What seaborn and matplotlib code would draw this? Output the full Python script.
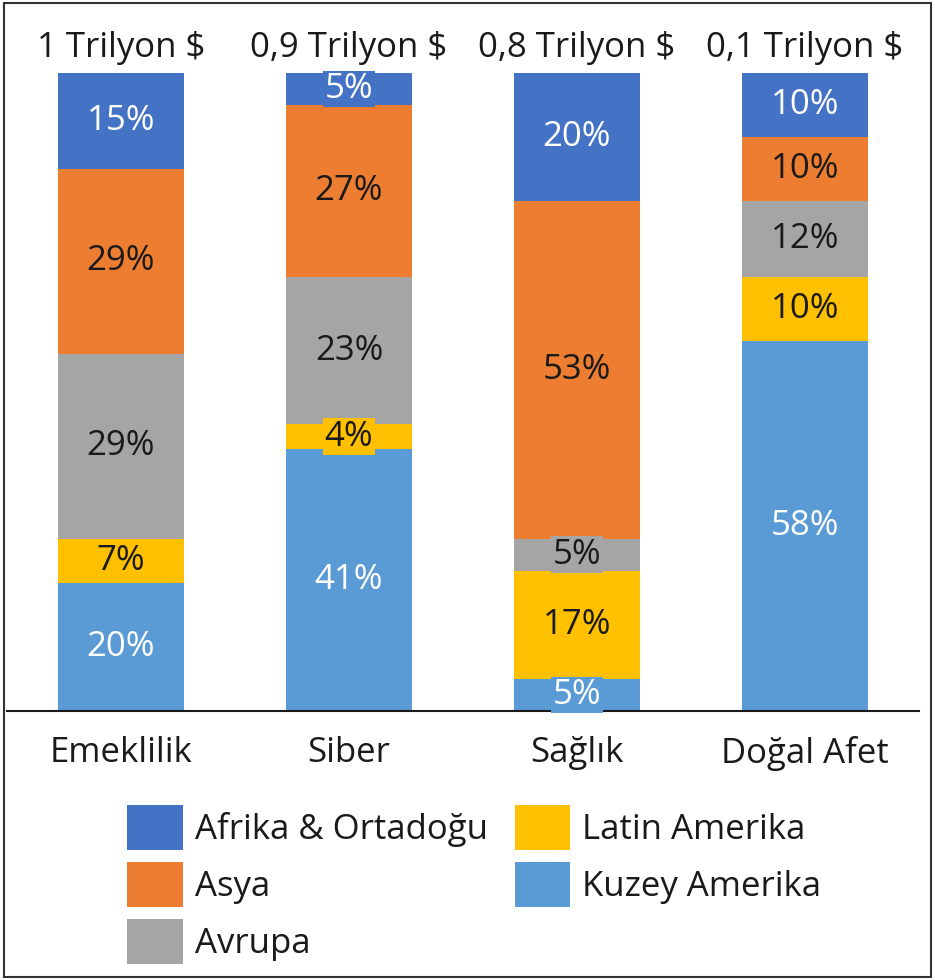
import numpy as np
import pandas as pd
import matplotlib
matplotlib.use("Agg")
import matplotlib.pyplot as plt
import seaborn as sns
from matplotlib.patches import Patch, Rectangle

categories = ["Emeklilik", "Siber", "Sağlık", "Doğal Afet"]
totals = ["1 Trilyon $", "0,9 Trilyon $", "0,8 Trilyon $", "0,1 Trilyon $"]

# regions, bottom to top
regions = ["Kuzey Amerika", "Latin Amerika", "Avrupa", "Asya", "Afrika & Ortadoğu"]
kuzey = [20, 41, 5, 58]
latin = [7, 4, 17, 10]
avrupa = [29, 23, 5, 12]
asya = [29, 27, 53, 10]
afrika = [15, 5, 20, 10]

colors = {
    "Afrika & Ortadoğu": "#4472C4",
    "Asya": "#ED7D31",
    "Avrupa": "#A5A5A5",
    "Latin Amerika": "#FFC000",
    "Kuzey Amerika": "#5B9BD5",
}
text_colors = {
    "Afrika & Ortadoğu": "white",
    "Asya": "#1a1a1a",
    "Avrupa": "#1a1a1a",
    "Latin Amerika": "#1a1a1a",
    "Kuzey Amerika": "white",
}

sns.set_style("white")
plt.rcParams["font.family"] = ["Open Sans", "DejaVu Sans"]
FS = 25

values = pd.DataFrame(
    {"Kuzey Amerika": kuzey, "Latin Amerika": latin, "Avrupa": avrupa,
     "Asya": asya, "Afrika & Ortadoğu": afrika},
    index=categories,
)
cum = values.cumsum(axis=1)

fig = plt.figure(figsize=(9.35, 9.8), dpi=100)
ax = fig.add_axes([7 / 935, 1 - 711 / 980, 912 / 935, 638 / 980])

# stacked bars: draw cumulative totals from the top segment down
for reg in regions[::-1]:
    df = pd.DataFrame({"cat": categories, "val": cum[reg].values})
    sns.barplot(data=df, x="cat", y="val", color=colors[reg], width=0.557,
                saturation=1, ax=ax, order=categories, linewidth=0)

# segment labels
for i, cat in enumerate(categories):
    bottom = 0
    for reg in regions:
        v = values.loc[cat, reg]
        ax.text(i, bottom + v / 2, f"{v}%", ha="center", va="center",
                fontsize=FS, color=text_colors[reg],
                bbox=dict(facecolor=colors[reg], edgecolor="none", pad=1.0))
        bottom += v
    ax.annotate(totals[i], xy=(i, 100), xytext=(0, 18), textcoords="offset points",
                ha="center", va="center", fontsize=FS, color="#1a1a1a",
                annotation_clip=False)

ax.set_xlim(-0.5, 3.5)
ax.set_ylim(0, 100)
ax.set_xlabel("")
ax.set_ylabel("")
ax.set_yticks([])
ax.tick_params(axis="x", length=0, pad=18, labelsize=FS, labelcolor="#1a1a1a")
for side in ["top", "right", "left"]:
    ax.spines[side].set_visible(False)
ax.spines["bottom"].set_color("#1a1a1a")
ax.spines["bottom"].set_linewidth(1.5)

legend_order = ["Afrika & Ortadoğu", "Asya", "Avrupa", "Latin Amerika", "Kuzey Amerika"]
handles = [Patch(facecolor=colors[r], edgecolor="none") for r in legend_order]
fig.legend(handles, legend_order, ncol=2, loc="upper left",
           bbox_to_anchor=(127 / 935, 1 - 805 / 980), frameon=False,
           fontsize=FS, handlelength=1.6, handleheight=1.6, handletextpad=0.35,
           labelspacing=0.36, columnspacing=0.78, borderpad=0, borderaxespad=0,
           labelcolor="#1a1a1a")

# figure frame
fig.patches.append(Rectangle((4 / 935, 3 / 980), 927 / 935, 974 / 980,
                             transform=fig.transFigure, fill=False,
                             edgecolor="#333333", linewidth=1.5))

fig.savefig("out.png", dpi=100)
